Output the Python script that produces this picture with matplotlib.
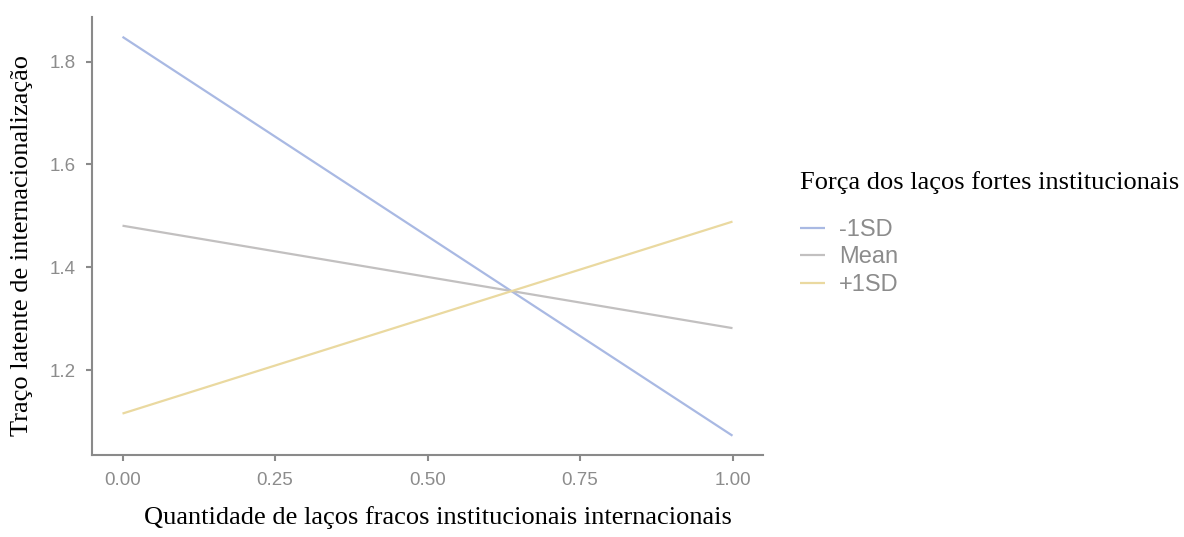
import matplotlib
matplotlib.use("Agg")
import matplotlib.pyplot as plt

# simple slopes: x at 0 and 1, one line per moderator level
x = [0.0, 1.0]
groups = ["-1SD", "Mean", "+1SD"]
y_minus = [1.848, 1.073]
y_mean = [1.481, 1.282]
y_plus = [1.116, 1.489]
colors = ["#a9b9e3", "#c2c0c0", "#ead9a0"]

x_ticks = [0.0, 0.25, 0.50, 0.75, 1.00]
y_ticks = [1.2, 1.4, 1.6, 1.8]

W, H = 1184, 537
fig = plt.figure(figsize=(W / 100, H / 100), dpi=100)
ax = fig.add_axes([92 / W, 1 - 455 / H, (763 - 92) / W, (455 - 17) / H])

lines = []
for ys, col in zip([y_minus, y_mean, y_plus], colors):
    lines.append(ax.plot(x, ys, color=col, lw=1.6, solid_capstyle="butt")[0])

ax.set_xlim(-0.05, 1.05)
ax.set_ylim(1.0355, 1.8865)
ax.set_xticks(x_ticks)
ax.set_xticklabels([f"{t:.2f}" for t in x_ticks])
ax.set_yticks(y_ticks)
ax.set_yticklabels([f"{t:.1f}" for t in y_ticks])

for s in ["top", "right"]:
    ax.spines[s].set_visible(False)
for s in ["left", "bottom"]:
    ax.spines[s].set_color("#8a8a8a")
    ax.spines[s].set_linewidth(1.5)
ax.tick_params(colors="#8a8a8a", length=4, width=1.5, labelsize=13.5,
               labelcolor="#8c8c8c", pad=8)
for lab in ax.get_xticklabels() + ax.get_yticklabels():
    lab.set_family("Liberation Sans")

serif = "Liberation Serif"
fig.text(438 / W, 1 - 524 / H, "Quantidade de laços fracos institucionais internacionais",
         family=serif, fontsize=19, ha="center", va="baseline")
fig.text(22 / W, 1 - 245 / H, "Traço latente de internacionalização",
         family=serif, fontsize=19, ha="center", va="center", rotation=90)

leg = fig.legend(lines, groups, loc="upper left", bbox_to_anchor=(800 / W, 1 - 219 / H),
                 frameon=False, handlelength=1.06, handletextpad=0.6, labelspacing=0.23,
                 borderaxespad=0, borderpad=0, prop={"family": "Liberation Sans", "size": 17})
for t in leg.get_texts():
    t.set_color("#8c8c8c")
fig.text(800 / W, 1 - 189 / H, "Força dos laços fortes institucionais",
         family=serif, fontsize=19, ha="left", va="baseline")

fig.savefig("out.png", dpi=100)
